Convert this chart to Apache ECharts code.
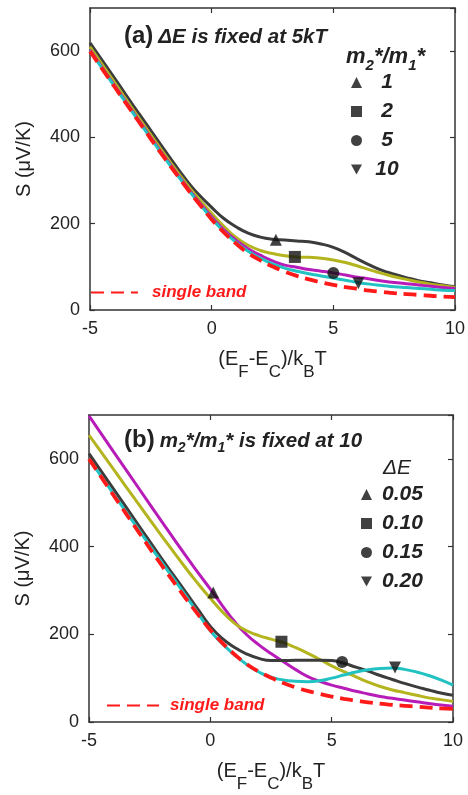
<!DOCTYPE html>
<html>
<head>
<meta charset="utf-8">
<script src="https://cdn.jsdelivr.net/npm/echarts@6/dist/echarts.min.js"></script>
<style>
  html, body { margin: 0; padding: 0; background: #fff; }
  #chart { width: 468px; height: 795px; }
</style>
</head>
<body>
<div id="chart"></div>
<script>
// reduced Fermi level grid, (E_F - E_C)/k_B T
const eta = [-5, -4, -3, -2, -1, -0.5, 0, 0.5, 1, 1.5, 2, 2.5, 3, 3.5, 4, 4.5, 5, 5.5, 6, 6.5, 7, 7.5, 8, 8.5, 9, 9.5, 10];

// single parabolic band (red dashed, both panels)
const singleBand = [600, 518, 437, 357, 281, 245, 210, 180, 154, 132, 115, 101, 89, 79, 71, 64, 58, 53, 49, 45, 42, 39, 37, 35, 33, 31, 30];

// panel (a): dE fixed at 5kT, m2*/m1* = 1, 2, 5, 10
const ratioNames = ["1", "2", "5", "10"];
const aRatio1 = [619, 538, 456, 376, 298, 266, 238, 212, 193, 178, 169, 164, 162, 160, 158, 153, 145, 133, 118, 104, 92, 83, 75, 68, 63, 58, 54];
const aRatio2 = [610, 528, 446, 366, 290, 256, 224, 194, 168, 150, 138, 131, 126, 123, 122, 120, 116, 110, 102, 93, 85, 77, 71, 65, 60, 56, 52];
const aRatio5 = [603, 521, 440, 360, 284, 249, 216, 186, 162, 142, 127, 114, 104, 99, 94, 90, 86, 81, 76, 72, 67, 64, 61, 58, 55, 52, 50];
const aRatio10 = [601, 519, 438, 358, 282, 246, 212, 182, 157, 136, 120, 107, 97, 90, 84, 79, 74, 69, 64, 60, 57, 54, 52, 50, 48, 46, 45];
const aMarkers = [[2.64, 163], [3.42, 123], [5.0, 86], [6.03, 62]];

// panel (b): m2*/m1* fixed at 10, dE = 0.05 .. 0.20
const dENames = ["0.05", "0.10", "0.15", "0.20"];
const bDE05 = [698, 617, 537, 457, 378, 340, 303, 265, 229, 199, 176, 156, 138, 120, 104, 93, 84, 77, 70, 64, 58, 54, 50, 46, 42, 39, 36];
const bDE10 = [654, 577, 500, 424, 350, 315, 282, 251, 225, 208, 197, 189, 181, 170, 157, 143, 128, 115, 103, 91, 81, 73, 67, 61, 55, 51, 47];
const bDE15 = [612, 532, 452, 372, 295, 256, 218, 190, 170, 155, 145, 140, 140, 141, 141, 141, 140, 134, 125, 116, 106, 97, 88, 80, 73, 66, 61];
const bDE20 = [600, 521, 442, 364, 287, 247, 208, 178, 153, 131, 114, 102, 96, 93, 92, 94, 100, 107, 114, 119, 122, 123, 120, 114, 106, 96, 84];
const bMarkers = [[0.12, 295], [2.93, 183], [5.43, 137], [7.61, 124]];

const FONT = "'Liberation Sans', Arial, sans-serif";
const colors = { black: "#3c3c3c", olive: "#b4b41e", magenta: "#b81cb8", cyan: "#22c2c2", red: "#ff1a1a" };
const markerShapes = ["triangle", "rect", "circle", "path://M0,0L10,0L5,9Z"];

const chart = echarts.init(document.getElementById("chart"));

const pairs = (vals) => vals.map((v, i) => [eta[i], v]);

function curve(vals, color, g, extra) {
    return Object.assign({
        type: "line",
        xAxisIndex: g * 2,
        yAxisIndex: g * 2,
        data: pairs(vals),
        smooth: true,
        symbol: "none",
        silent: true,
        lineStyle: { color: color, width: 3 },
        itemStyle: { color: color }
    }, extra || {});
}

function marker(name, pt, shape, g) {
    return {
        type: "scatter",
        name: name,
        xAxisIndex: g * 2,
        yAxisIndex: g * 2,
        data: [pt],
        symbol: shape,
        symbolSize: 12,
        itemStyle: { color: "#111" },
        z: 10
    };
}

function bandLine(g) {
    return curve(singleBand, colors.red, g, {
        name: "single band",
        z: 5,
        lineStyle: { color: colors.red, width: 3.8, type: [13, 7] }
    });
}

const axisLine = { onZero: false, lineStyle: { color: "#333", width: 1.5 } };
const axisTick = { inside: true, length: 5, lineStyle: { color: "#333", width: 1.2 } };

const xName = "{m|(E}{s|F}{m|-E}{s|C}{m|)/k}{s|B}{m|T}";
const xRich = {
    m: { fontSize: 20, fontFamily: FONT, color: "#222", lineHeight: 22, verticalAlign: "top" },
    s: { fontSize: 17, fontFamily: FONT, color: "#222", lineHeight: 32, verticalAlign: "bottom" }
};

function xAxes(g) {
    return [
        {
            type: "value", gridIndex: g, position: "bottom", min: -5, max: 10, interval: 5,
            axisLine, axisTick, splitLine: { show: false },
            axisLabel: { fontSize: 18, color: "#222", fontFamily: FONT, margin: 10 },
            name: xName, nameLocation: "middle", nameGap: 39,
            nameTextStyle: { rich: xRich }
        },
        {
            type: "value", gridIndex: g, position: "top", min: -5, max: 10, interval: 5,
            axisLine, axisTick, splitLine: { show: false }, axisLabel: { show: false }
        }
    ];
}

function yAxes(g) {
    return [
        {
            type: "value", gridIndex: g, position: "left", min: 0, max: 700, interval: 200,
            axisLine, axisTick, splitLine: { show: false },
            axisLabel: { fontSize: 18, color: "#222", fontFamily: FONT, margin: 10, showMaxLabel: false },
            name: "S (\u03bcV/K)", nameLocation: "middle", nameGap: 56,
            nameTextStyle: { fontSize: 20, color: "#222", fontFamily: FONT }
        },
        {
            type: "value", gridIndex: g, position: "right", min: 0, max: 700, interval: 200,
            axisLine, axisTick, splitLine: { show: false }, axisLabel: { show: false }
        }
    ];
}

const bi = { fontWeight: "bold", fontStyle: "italic", fontFamily: FONT, color: "#222" };
const titleRich = {
    p: { fontSize: 24, fontWeight: "bold", fontFamily: FONT, color: "#222", lineHeight: 26, verticalAlign: "top" },
    t: Object.assign({ fontSize: 20.5, lineHeight: 26, verticalAlign: "top", padding: [3, 0, 0, 0] }, bi),
    s: Object.assign({ fontSize: 14, lineHeight: 27, verticalAlign: "bottom" }, bi),
    h: Object.assign({ fontSize: 22, lineHeight: 24, verticalAlign: "top" }, bi),
    hs: Object.assign({ fontSize: 15, lineHeight: 27, verticalAlign: "bottom" }, bi),
    d: { fontSize: 21, fontStyle: "italic", fontWeight: "normal", fontFamily: FONT, color: "#222" }
};

const markerLegend = (names, left, top) => ({
    data: names,
    orient: "vertical",
    left: left,
    top: top,
    itemWidth: 11,
    itemHeight: 11,
    itemGap: 8,
    selectedMode: false,
    textStyle: { fontSize: 21, fontWeight: "bold", fontStyle: "italic", fontFamily: FONT, color: "#222", lineHeight: 20 }
});

const bandLegend = (left, top, w, pad) => ({
    data: ["single band"],
    left: left,
    top: top,
    itemWidth: w,
    itemHeight: 10,
    selectedMode: false,
    itemStyle: { color: "transparent", borderWidth: 0, opacity: 0 },
    textStyle: { fontSize: 17, fontWeight: "bold", fontStyle: "italic", fontFamily: FONT, color: colors.red, padding: [0, 0, 0, pad] }
});

const legA = markerLegend(ratioNames, 346, 67);
legA.formatter = "{c|{name}}";
legA.textStyle.rich = { c: Object.assign({ fontSize: 21, lineHeight: 20, width: 40, align: "center" }, bi) };
const legB = markerLegend(dENames, 356, 479);
legB.textStyle.padding = [0, 0, 0, 5];

chart.setOption({
    animation: false,
    backgroundColor: "#fff",
    title: [
        { text: "{p|(a)} {t|\u0394E is fixed at 5kT}", left: 119, top: 19, textStyle: { rich: titleRich } },
        { text: "{h|m}{hs|2}{h|*/m}{hs|1}{h|*}", left: 341, top: 41, textStyle: { rich: titleRich } },
        { text: "{p|(b)} {t|m}{s|2}{t|*/m}{s|1}{t|* is fixed at 10}", left: 119, top: 423, textStyle: { rich: titleRich } },
        { text: "{d|\u0394E}", left: 378, top: 453, textStyle: { rich: titleRich } }
    ],
    legend: [
        legA,
        legB,
        bandLegend(85, 279, 47, 9),
        bandLegend(101, 692, 52, 6)
    ],
    grid: [
        { left: 90, top: 8, width: 365, height: 302 },
        { left: 89, top: 415, width: 364, height: 307 }
    ],
    xAxis: [...xAxes(0), ...xAxes(1)],
    yAxis: [...yAxes(0), ...yAxes(1)],
    series: [
        curve(aRatio1, colors.black, 0),
        curve(aRatio2, colors.olive, 0),
        curve(aRatio5, colors.magenta, 0),
        curve(aRatio10, colors.cyan, 0),
        bandLine(0),
        ...ratioNames.map((n, i) => marker(n, aMarkers[i], markerShapes[i], 0)),

        curve(bDE05, colors.magenta, 1),
        curve(bDE10, colors.olive, 1),
        curve(bDE15, colors.black, 1),
        curve(bDE20, colors.cyan, 1),
        bandLine(1),
        ...dENames.map((n, i) => marker(n, bMarkers[i], markerShapes[i], 1))
    ]
});

window.addEventListener("resize", () => chart.resize());
</script>
</body>
</html>
